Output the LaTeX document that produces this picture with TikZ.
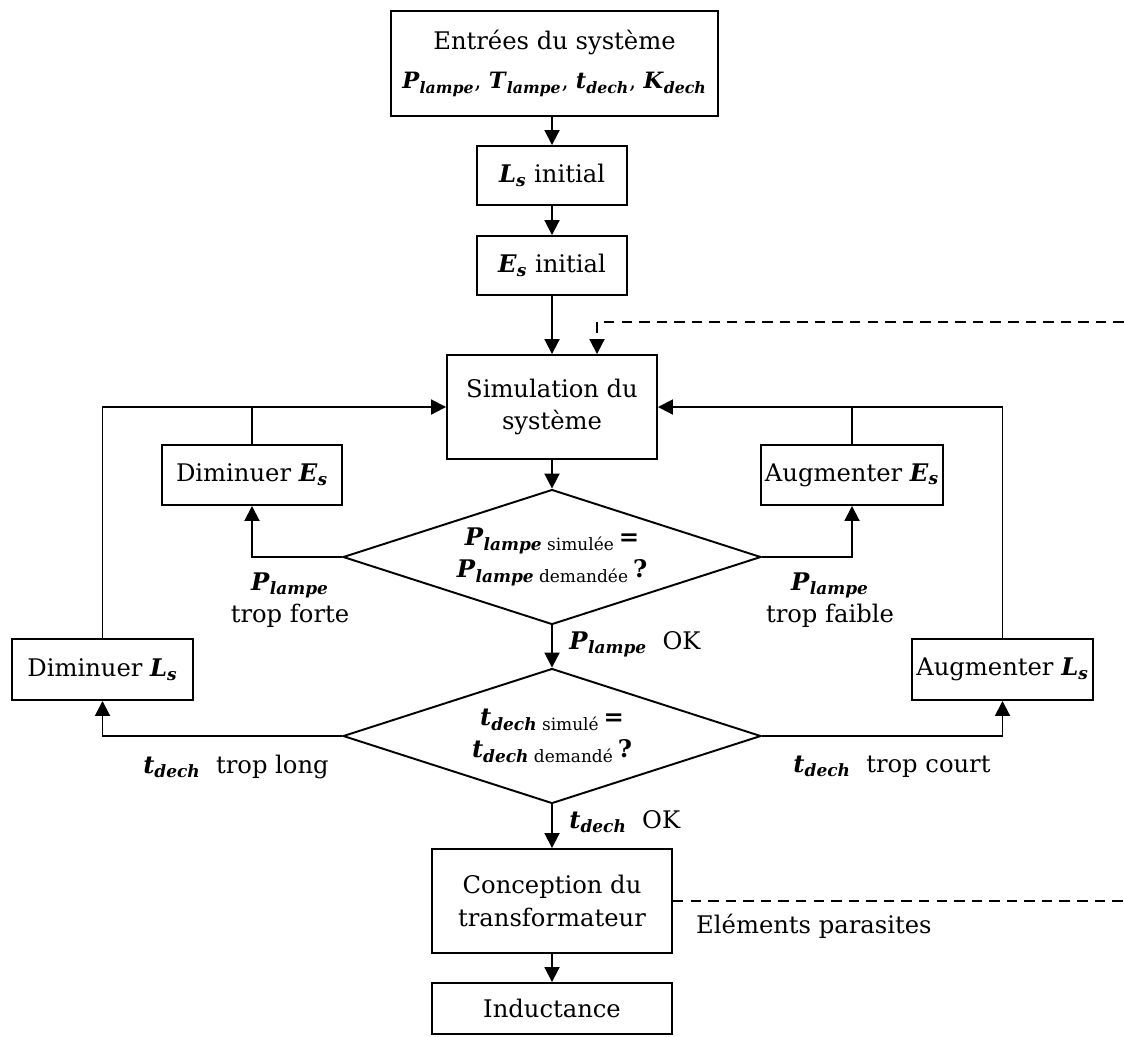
\documentclass[tikz,border=0pt]{standalone}
\usepackage{fontspec}
\setmainfont{DejaVu Serif}
\usepackage{tikz}
\usetikzlibrary{arrows.meta,shapes.geometric}
\newcommand{\grand}[2]{\textbf{\textit{#1}}\textsubscript{\textbf{\textit{#2}}}}
\tikzset{
    bloc/.style={draw, line width=1.1pt, align=center, inner sep=2pt},
    decision/.style={draw, diamond, shape aspect=3.1, inner sep=0pt, line width=1.1pt,
        align=center, minimum width=8.36cm, minimum height=2.7cm},
    fleche/.style={-{Triangle[length=3mm,width=3mm]}, line width=1.1pt},
    trait/.style={line width=1.1pt},
    pointille/.style={line width=1.1pt, dash pattern=on 6pt off 4pt},
}

\begin{document}
\begin{tikzpicture}[x=0.02cm, y=-0.02cm, font=\fontsize{13.8}{18.5}\selectfont]
        \useasboundingbox (0,0) rectangle (1124,1036);
        % colonne centrale
        \node[bloc, inner sep=0pt, minimum width=6.54cm, minimum height=2.1cm] (entrees) at (554.5,63.5)
            {Entrées du système\\[4pt] {\fontsize{12.8}{18}\selectfont
             \grand{P}{lampe}, \grand{T}{lampe}, \grand{t}{dech}, \grand{K}{dech}}};
        \node[bloc, minimum width=3cm, minimum height=1.18cm] (lsinit) at (552,175.5) {\grand{L}{s} initial};
        \node[bloc, minimum width=3cm, minimum height=1.18cm] (esinit) at (552,265.5) {\grand{E}{s} initial};
        \node[bloc, minimum width=4.2cm, minimum height=2.08cm] (simu) at (552,407) {Simulation du\\système};
        \node[decision] (testP) at (552,557)
            {\textbf{\textit{P}}\textsubscript{\textbf{\textit{lampe}} simulée}\,\textbf{=}\\
             \textbf{\textit{P}}\textsubscript{\textbf{\textit{lampe}} demandée}\,\textbf{?}};
        \node[decision] (testT) at (552,736)
            {\textbf{\textit{t}}\textsubscript{\textbf{\textit{dech}} simulé}\,\textbf{=}\\
             \textbf{\textit{t}}\textsubscript{\textbf{\textit{dech}} demandé}\,\textbf{?}};
        \node[bloc, minimum width=4.8cm, minimum height=2.08cm] (concep) at (552,901) {Conception du\\transformateur};
        \node[bloc, minimum width=4.8cm, minimum height=1.02cm] (induct) at (552,1008.5) {Inductance};
        % boucles
        \node[bloc, minimum width=3.6cm, minimum height=1.2cm] (dimEs) at (252,475) {Diminuer \grand{E}{s}};
        \node[bloc, minimum width=3.6cm, minimum height=1.2cm] (augEs) at (852,475) {Augmenter \grand{E}{s}};
        \node[bloc, minimum width=3.62cm, minimum height=1.22cm] (dimLs) at (102.5,669.5) {Diminuer \grand{L}{s}};
        \node[bloc, minimum width=3.62cm, minimum height=1.22cm] (augLs) at (1002.5,669.5) {Augmenter \grand{L}{s}};
        \coordinate (retour) at (1124,322);
        \coordinate (parasite) at (1124,901);

        \draw[fleche] (entrees.south -| lsinit) -- (lsinit);
        \draw[fleche] (lsinit) -- (esinit);
        \draw[fleche] (esinit) -- (simu);
        \draw[fleche] (simu) -- (testP);
        \draw[fleche] (testP) -- (testT) node[pos=0.45, right=6pt] {\grand{P}{lampe}\ \ OK};
        \draw[fleche] (testT) -- (concep) node[pos=0.4, right=6pt] {\grand{t}{dech}\ \ OK};
        \draw[fleche] (concep) -- (induct);
        \draw[fleche, pointille] (retour) -| (simu.north -| 597,0);

        \draw[fleche] (testP.west) -| (dimEs.south);
        \draw[fleche] (testP.east) -| (augEs.south);
        \draw[trait] (dimEs.north) -- (dimEs.north |- simu.west);
        \draw[trait] (augEs.north) -- (augEs.north |- simu.east);
        \draw[fleche] (dimLs.north) |- (simu.west);
        \draw[fleche] (augLs.north) |- (simu.east);
        \draw[fleche] (testT.west) -| (dimLs.south);
        \draw[fleche] (testT.east) -| (augLs.south);
        \draw[pointille] (concep.east) -- (parasite);

        \node[align=center] (forte) at (290,600) {\grand{P}{lampe}\\trop forte};
        \node[align=center] (faible) at (830,600) {\grand{P}{lampe}\\trop faible};
        \node (long) at (236,767) {\grand{t}{dech}\ \ trop long};
        \node (court) at (892,767) {\grand{t}{dech}\ \ trop court};
        \node[anchor=west] (elem) at (690,926) {Eléments parasites};
    \end{tikzpicture}
\end{document}
